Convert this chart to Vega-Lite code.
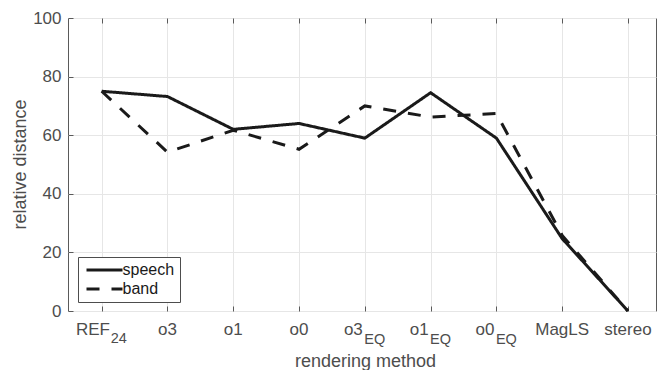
{
  "$schema": "https://vega.github.io/schema/vega-lite/v6.json",
  "width": 588,
  "height": 293,
  "autosize": {"type": "none"},
  "padding": {"left": 68, "top": 18, "right": 1, "bottom": 59},
  "background": "white",
  "config": {
    "view": {"stroke": "#5a5a5a", "strokeWidth": 1},
    "font": "Liberation Sans",
    "axis": {
      "gridColor": "#e6e6e6",
      "gridWidth": 1,
      "domain": false,
      "tickColor": "#5a5a5a",
      "labelFont": "Liberation Sans",
      "titleFont": "Liberation Sans",
      "labelColor": "#4d4d4d",
      "titleColor": "#4d4d4d",
      "labelFontSize": 17,
      "titleFontSize": 18,
      "titleFontWeight": "normal"
    }
  },
  "resolve": {"axis": {"x": "independent", "y": "independent"}},
  "layer": [
    {
      "data": {
        "values": [
          {"idx": 1, "method": "REF24", "series": "speech", "value": 75},
          {"idx": 2, "method": "o3", "series": "speech", "value": 73.2},
          {"idx": 3, "method": "o1", "series": "speech", "value": 62},
          {"idx": 4, "method": "o0", "series": "speech", "value": 64},
          {"idx": 5, "method": "o3EQ", "series": "speech", "value": 59},
          {"idx": 6, "method": "o1EQ", "series": "speech", "value": 74.5},
          {"idx": 7, "method": "o0EQ", "series": "speech", "value": 59},
          {"idx": 8, "method": "MagLS", "series": "speech", "value": 24.7},
          {"idx": 9, "method": "stereo", "series": "speech", "value": 0},
          {"idx": 1, "method": "REF24", "series": "band", "value": 75},
          {"idx": 2, "method": "o3", "series": "band", "value": 54.2},
          {"idx": 3, "method": "o1", "series": "band", "value": 61.7},
          {"idx": 4, "method": "o0", "series": "band", "value": 55.2},
          {"idx": 5, "method": "o3EQ", "series": "band", "value": 70},
          {"idx": 6, "method": "o1EQ", "series": "band", "value": 66.2},
          {"idx": 7, "method": "o0EQ", "series": "band", "value": 67.4},
          {"idx": 8, "method": "MagLS", "series": "band", "value": 25.8},
          {"idx": 9, "method": "stereo", "series": "band", "value": 0}
        ]
      },
      "mark": {"type": "line", "color": "#1a1a1a", "strokeWidth": 3, "strokeCap": "butt"},
      "encoding": {
        "x": {
          "field": "idx",
          "type": "quantitative",
          "scale": {"domain": [0.488, 9.426], "nice": false, "zero": false},
          "axis": {
            "orient": "bottom",
            "values": [1, 2, 3, 4, 5, 6, 7, 8, 9],
            "labels": false,
            "tickSize": -5,
            "grid": true,
            "title": "rendering method",
            "titleX": 297,
            "titleY": 55,
            "titleBaseline": "alphabetic"
          }
        },
        "y": {
          "field": "value",
          "type": "quantitative",
          "scale": {"domain": [0, 100], "nice": false},
          "axis": {
            "values": [0, 20, 40, 60, 80, 100],
            "tickSize": -5,
            "labelPadding": 12,
            "grid": true,
            "title": "relative distance",
            "titleX": -43,
            "titleY": 146,
            "titleAngle": -90,
            "titleBaseline": "alphabetic"
          }
        },
        "detail": {"field": "series"},
        "strokeDash": {
          "field": "series",
          "type": "nominal",
          "scale": {"domain": ["speech", "band"], "range": [[1, 0], [13, 12]]},
          "legend": {
            "title": null,
            "orient": "none",
            "legendX": 10,
            "legendY": 239,
            "symbolType": "M-4,0H4",
            "symbolSize": 81,
            "symbolOffset": 13.5,
            "symbolStrokeWidth": 3,
            "symbolStrokeColor": "#1a1a1a",
            "labelOffset": 10,
            "labelFont": "Liberation Sans",
            "labelFontSize": 16,
            "labelColor": "#1a1a1a",
            "padding": 5,
            "rowPadding": 3,
            "strokeColor": "#4d4d4d",
            "fillColor": "white"
          }
        }
      }
    },
    {
      "data": {"values": [{"idx": 1, "value": 0}]},
      "mark": {"type": "point", "opacity": 0},
      "encoding": {
        "x": {
          "field": "idx",
          "type": "quantitative",
          "axis": {
            "orient": "top",
            "values": [1, 2, 3, 4, 5, 6, 7, 8, 9],
            "labels": false,
            "tickSize": -5,
            "grid": false,
            "title": null
          }
        },
        "y": {"field": "value", "type": "quantitative", "axis": null}
      }
    },
    {
      "data": {
        "values": [
          {"idx": 2, "label": "o3"},
          {"idx": 3, "label": "o1"},
          {"idx": 4, "label": "o0"},
          {"idx": 8, "label": "MagLS"},
          {"idx": 9, "label": "stereo"}
        ]
      },
      "mark": {"type": "text", "align": "center", "baseline": "alphabetic", "dy": 24, "fontSize": 17, "font": "Liberation Sans", "color": "#4d4d4d"},
      "encoding": {
        "x": {"field": "idx", "type": "quantitative", "axis": null},
        "y": {"datum": 0, "type": "quantitative", "axis": null},
        "text": {"field": "label"}
      }
    },
    {
      "data": {"values": [{"idx": 1, "label": "REF"}]},
      "mark": {"type": "text", "align": "right", "baseline": "alphabetic", "dx": 8.3, "dy": 24, "fontSize": 17, "font": "Liberation Sans", "color": "#4d4d4d"},
      "encoding": {
        "x": {"field": "idx", "type": "quantitative", "axis": null},
        "y": {"datum": 0, "type": "quantitative", "axis": null},
        "text": {"field": "label"}
      }
    },
    {
      "data": {"values": [{"idx": 1, "label": "24"}]},
      "mark": {"type": "text", "align": "left", "baseline": "alphabetic", "dx": 9, "dy": 32.3, "fontSize": 14.5, "font": "Liberation Sans", "color": "#4d4d4d"},
      "encoding": {
        "x": {"field": "idx", "type": "quantitative", "axis": null},
        "y": {"datum": 0, "type": "quantitative", "axis": null},
        "text": {"field": "label"}
      }
    },
    {
      "data": {
        "values": [
          {"idx": 5, "label": "o3"},
          {"idx": 6, "label": "o1"},
          {"idx": 7, "label": "o0"}
        ]
      },
      "mark": {"type": "text", "align": "right", "baseline": "alphabetic", "dx": -2, "dy": 24, "fontSize": 17, "font": "Liberation Sans", "color": "#4d4d4d"},
      "encoding": {
        "x": {"field": "idx", "type": "quantitative", "axis": null},
        "y": {"datum": 0, "type": "quantitative", "axis": null},
        "text": {"field": "label"}
      }
    },
    {
      "data": {
        "values": [
          {"idx": 5, "label": "EQ"},
          {"idx": 6, "label": "EQ"},
          {"idx": 7, "label": "EQ"}
        ]
      },
      "mark": {"type": "text", "align": "left", "baseline": "alphabetic", "dx": -0.5, "dy": 32.6, "fontSize": 14.5, "font": "Liberation Sans", "color": "#4d4d4d"},
      "encoding": {
        "x": {"field": "idx", "type": "quantitative", "axis": null},
        "y": {"datum": 0, "type": "quantitative", "axis": null},
        "text": {"field": "label"}
      }
    }
  ]
}
